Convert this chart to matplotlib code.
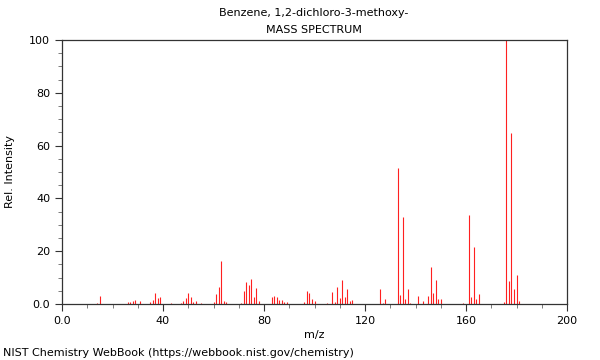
import matplotlib
matplotlib.use("Agg")
import matplotlib.pyplot as plt
from matplotlib.ticker import MultipleLocator, FuncFormatter

title = "Benzene, 1,2-dichloro-3-methoxy-"

# m/z values and relative intensities
mz = [14, 15, 26, 27, 28, 29, 31, 35, 36, 37, 38, 39, 43,
      47, 48, 49, 50, 51, 52, 53, 55, 60, 61, 62, 63, 64, 65,
      71, 72, 73, 74, 75, 76, 77, 78, 83, 84, 85, 86, 87, 88, 89,
      96, 97, 98, 99, 100, 105, 107, 108, 109, 110, 111, 112, 113, 114, 115,
      126, 127, 128, 133, 134, 135, 136, 137, 138, 141, 143, 145, 146, 147,
      148, 149, 150, 159, 161, 162, 163, 164, 165, 175, 176, 177, 178,
      179, 180, 181]
intensity = [0.5, 3.0, 0.8, 0.8, 1.0, 1.5, 1.0, 0.9, 1.6, 4.3, 2.1, 2.5, 0.4,
             0.5, 1.1, 2.3, 4.3, 2.5, 0.8, 1.1, 0.5, 0.8, 3.8, 6.4, 16.3, 1.1, 0.9,
             0.5, 4.8, 8.3, 7.2, 9.5, 2.5, 6.1, 1.0, 2.7, 3.0, 2.6, 1.4, 1.4, 0.9, 0.8,
             0.7, 5.1, 4.0, 2.0, 1.3, 0.4, 4.5, 0.9, 6.4, 2.4, 9.1, 2.7, 5.7, 1.3, 1.5,
             5.5, 0.4, 2.0, 51.4, 3.4, 33.1, 2.0, 5.7, 0.4, 2.9, 1.0, 3.1, 13.9, 4.1,
             9.1, 1.9, 1.8, 0.3, 33.6, 2.8, 21.5, 1.8, 3.8, 0.8, 100.0, 8.7, 64.6,
             5.6, 10.9, 1.3]

fig = plt.figure(figsize=(6, 3.6), dpi=100)
ax = fig.add_axes([62 / 600, 1 - 304 / 360, 505 / 600, 264 / 360])

ax.vlines(mz, 0, intensity, colors="#ff2020", linewidth=0.8)

ax.set_xlim(0, 200)
ax.set_ylim(0, 100)
ax.xaxis.set_major_locator(MultipleLocator(40))
ax.xaxis.set_minor_locator(MultipleLocator(10))
ax.yaxis.set_major_locator(MultipleLocator(20))
ax.yaxis.set_minor_locator(MultipleLocator(5))


def fmt(v, pos):
    return "0.0" if v == 0 else "%d" % v


ax.xaxis.set_major_formatter(FuncFormatter(fmt))
ax.yaxis.set_major_formatter(FuncFormatter(fmt))
ax.tick_params(axis="both", which="major", length=5, labelsize=8, color="#333333")
ax.tick_params(axis="both", which="minor", length=3, color="#666666")
for s in ax.spines.values():
    s.set_color("#333333")
    s.set_linewidth(0.9)

ax.set_xlabel("m/z", fontsize=8, labelpad=3)
ax.set_ylabel("Rel. Intensity", fontsize=8, labelpad=10)

fig.text(314 / 600, 1 - 13 / 360, title, ha="center", va="center", fontsize=8)
fig.text(314 / 600, 1 - 30 / 360, "MASS SPECTRUM", ha="center", va="center", fontsize=8)
fig.text(3 / 600, 1 - 353 / 360, "NIST Chemistry WebBook (https://webbook.nist.gov/chemistry)",
         ha="left", va="center", fontsize=8)

fig.savefig("out.png", dpi=100)
